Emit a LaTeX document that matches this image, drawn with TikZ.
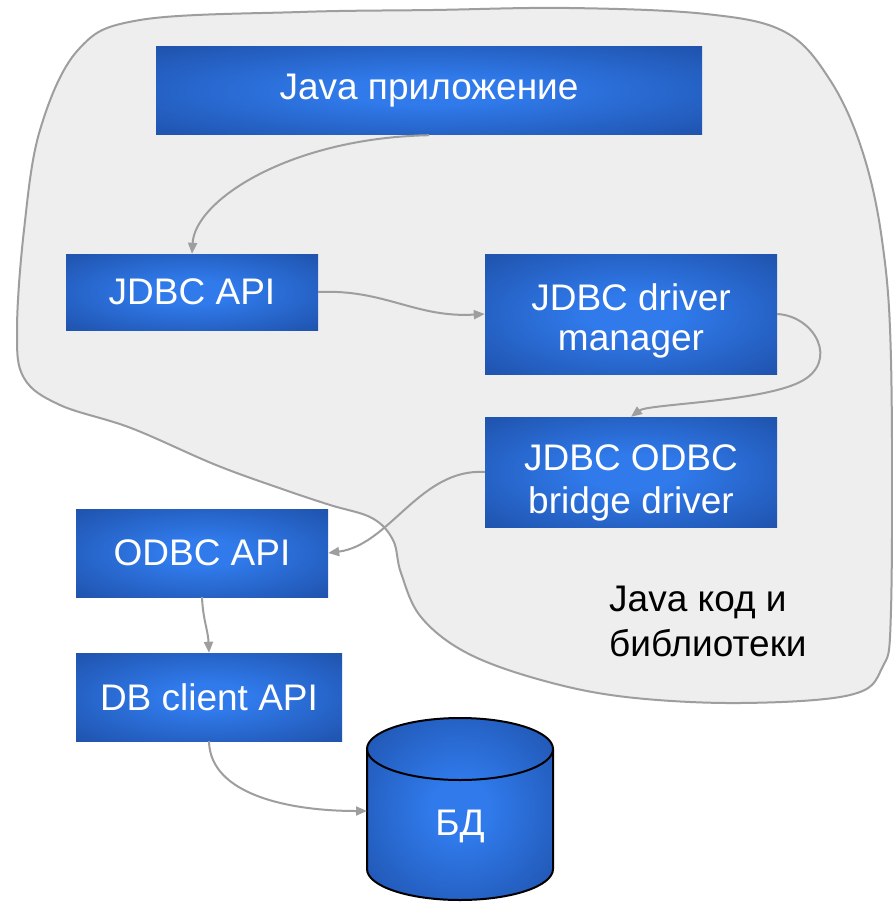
\documentclass[tikz,border=0pt]{standalone}
\usepackage{fontspec}
\setmainfont{Liberation Sans}
\usetikzlibrary{arrows.meta}
\definecolor{lightb}{RGB}{48,122,235}
\definecolor{darkb}{RGB}{22,62,140}
\definecolor{blobfill}{RGB}{238,238,238}
\definecolor{blobline}{RGB}{158,158,158}
\definecolor{conn}{RGB}{158,158,158}
\pgfdeclareradialshading{boxshade}{\pgfpoint{0bp}{0bp}}{color(0bp)=(lightb); color(8bp)=(lightb); color(50bp)=(darkb)}
\tikzset{
  bluebox/.style={shading=boxshade, text=white, inner sep=0pt, align=center,
    font=\fontsize{37}{40}\selectfont},
  conarrow/.style={draw=conn, line width=2pt, -{Triangle[length=11pt,width=9pt]}},
}
\begin{document}
\begin{tikzpicture}[x=1pt,y=1pt]
\useasboundingbox[fill=white] (0,0) rectangle (893,-904);
% blob
\draw[fill=blobfill, draw=blobline, line width=2pt]
  plot[smooth cycle, tension=0.6] coordinates {
  (140,-20) (300,-12) (433,-10) (569,-8) (706,-14) (785,-32)
  (830,-80) (862,-150) (882,-240) (891,-360) (891,-610) (882,-668)
  (850,-695) (740,-703) (626,-697) (541,-680) (467,-653) (421,-617)
  (401,-573) (393,-540) (372,-518) (330,-505) (285,-490) (216,-465)
  (131,-428) (60,-405) (24,-378) (17,-330) (24,-230) (40,-130)
  (78,-50)};
% boxes
\node[bluebox, minimum width=546pt, minimum height=88pt] (java) at (429,-91) {Java приложение};
\node[bluebox, minimum width=252pt, minimum height=76pt] (jdbc) at (192,-292) {JDBC API};
\node[bluebox, minimum width=292pt, minimum height=120pt] (dm) at (631,-314) {\rule{0pt}{40pt}JDBC driver\\manager};
\node[bluebox, minimum width=292pt, minimum height=110pt] (bridge) at (631,-472) {\rule{0pt}{48pt}JDBC ODBC\\[3pt]bridge driver};
\node[bluebox, minimum width=252pt, minimum height=88pt] (odbc) at (202,-553) {ODBC API};
\node[bluebox, minimum width=266pt, minimum height=88pt] (dbc) at (209,-697) {DB client API};
% cylinder
\path[shading=boxshade] (367,-749) -- (367,-869)
  arc[start angle=180, end angle=360, x radius=93, y radius=31] -- (553,-749)
  arc[start angle=0, end angle=180, x radius=93, y radius=31] -- cycle;
\draw[black, line width=2pt] (367,-749) -- (367,-869)
  arc[start angle=180, end angle=360, x radius=93, y radius=31] -- (553,-749)
  arc[start angle=0, end angle=180, x radius=93, y radius=31] -- cycle;
\draw[black, line width=2pt] (367,-749) arc[start angle=180, end angle=360, x radius=93, y radius=31];
\node[text=white, font=\fontsize{37}{40}\selectfont, minimum width=186pt, inner sep=0pt] (db) at (460,-826) {БД};
\coordinate (dbin) at (367,-811);
% label
\node[anchor=west, align=left, inner sep=0pt, font=\fontsize{37}{45}\selectfont] (lbl) at (609,-621) {Java код и\\библиотеки};
% connectors
\draw[conarrow] (java.south) .. controls (290,-138) and (195,-200) .. (jdbc.north);
\draw[conarrow] (jdbc.east) .. controls (385,-289) and (415,-318) .. (dm.west);
\draw[conarrow] (dm.east) .. controls (815,-316) and (840,-362) .. (800,-382)
  .. controls (760,-402) and (648,-404) .. (bridge.north);
\draw[conarrow] (bridge.west) .. controls (420,-468) and (390,-545) .. (odbc.east);
\draw[conarrow] (odbc.south) .. controls (203,-620) and (208,-630) .. (dbc.north);
\draw[conarrow] (dbc.south) .. controls (210,-795) and (290,-811) .. (dbin);
\end{tikzpicture}
\end{document}
